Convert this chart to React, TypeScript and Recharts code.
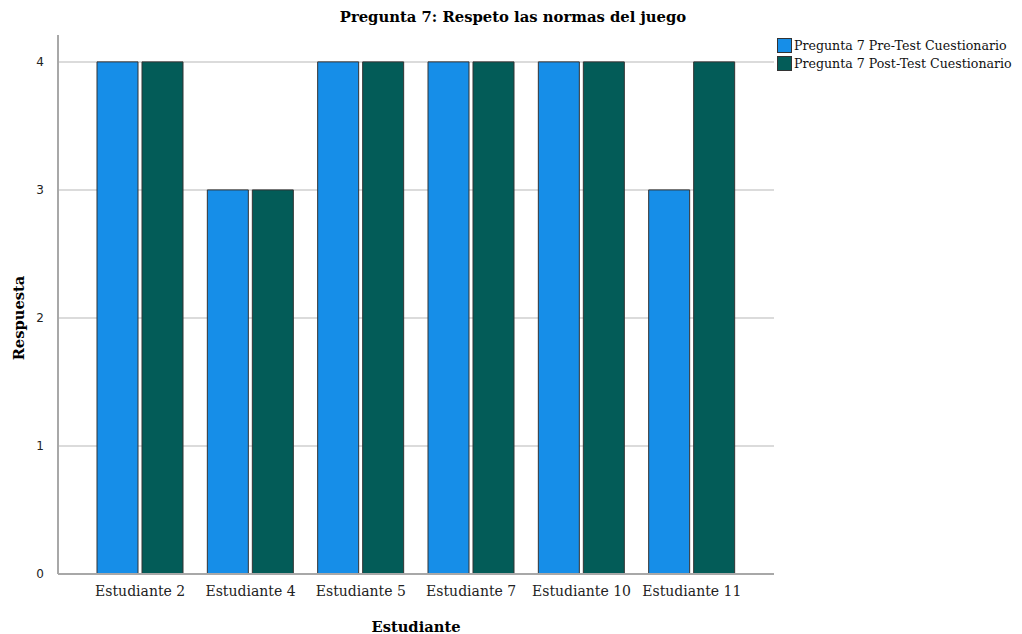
import React from 'react';
import { BarChart, Bar, XAxis, YAxis, CartesianGrid } from 'recharts';

const estudiantes = ['Estudiante 2', 'Estudiante 4', 'Estudiante 5', 'Estudiante 7', 'Estudiante 10', 'Estudiante 11'];
const preTest = [4, 3, 4, 4, 4, 3];
const postTest = [4, 3, 4, 4, 4, 4];
const yTicks = [0, 1, 2, 3, 4];

const series = [
  { key: 'pre', name: 'Pregunta 7 Pre-Test Cuestionario', color: '#168ee8' },
  { key: 'post', name: 'Pregunta 7 Post-Test Cuestionario', color: '#035c58' },
];

const chartData = estudiantes.map((e, i) => ({ name: e, pre: preTest[i], post: postTest[i] }));

const serif = '"DejaVu Serif", serif';

const App: React.FC = () => {
  return (
    <div style={{ position: 'absolute', left: 0, top: 0, width: 1022, height: 634, background: '#fff' }}>
      <div style={{ position: 'absolute', top: 8, left: 0, width: 1026, textAlign: 'center', fontFamily: serif, fontWeight: 'bold', fontSize: 14.8, color: '#000' }}>
        Pregunta 7: Respeto las normas del juego
      </div>
      <BarChart
        width={1022}
        height={634}
        data={chartData}
        margin={{ top: 35, right: 248, bottom: 0, left: 0 }}
        barGap={4}
        barSize={41}
      >
        <CartesianGrid vertical={false} stroke="#cfcfcf" strokeWidth={1.5} horizontalValues={[1, 2, 3, 4]} />
        <XAxis
          dataKey="name"
          height={60}
          padding={{ left: 27, right: 27 }}
          tickLine={false}
          axisLine={{ stroke: '#a8a8a8', strokeWidth: 2 }}
          tick={{ fontFamily: serif, fontSize: 14, fill: '#222' }}
          tickMargin={6}
          interval={0}
        />
        <YAxis
          width={58}
          domain={[0, 4.21]}
          ticks={yTicks}
          tickLine={false}
          axisLine={{ stroke: '#a8a8a8', strokeWidth: 2 }}
          tick={{ fontFamily: '"DejaVu Sans", sans-serif', fontSize: 12, fill: '#222' }}
          tickMargin={8}
        />
        {series.map((s) => (
          <Bar key={s.key} dataKey={s.key} name={s.name} fill={s.color} stroke="#333" strokeWidth={1} isAnimationActive={false} />
        ))}
      </BarChart>
      <div style={{ position: 'absolute', left: 0, top: 618, width: 832, textAlign: 'center', fontFamily: serif, fontWeight: 'bold', fontSize: 14.7, color: '#000' }}>
        Estudiante
      </div>
      <div style={{ position: 'absolute', left: 18, top: 318, transform: 'translate(-50%, -50%) rotate(-90deg)', fontFamily: serif, fontWeight: 'bold', fontSize: 14.7, color: '#000', whiteSpace: 'nowrap' }}>
        Respuesta
      </div>
      <div style={{ position: 'absolute', left: 777, top: 36, fontFamily: serif, fontSize: 12.6, color: '#111' }}>
        {series.map((s) => (
          <div key={s.key} style={{ display: 'flex', alignItems: 'center', height: 18 }}>
            <span style={{ display: 'inline-block', width: 13, height: 13, background: s.color, border: '1px solid #333', marginRight: 2 }} />
            <span>{s.name}</span>
          </div>
        ))}
      </div>
    </div>
  );
};

export default App;
